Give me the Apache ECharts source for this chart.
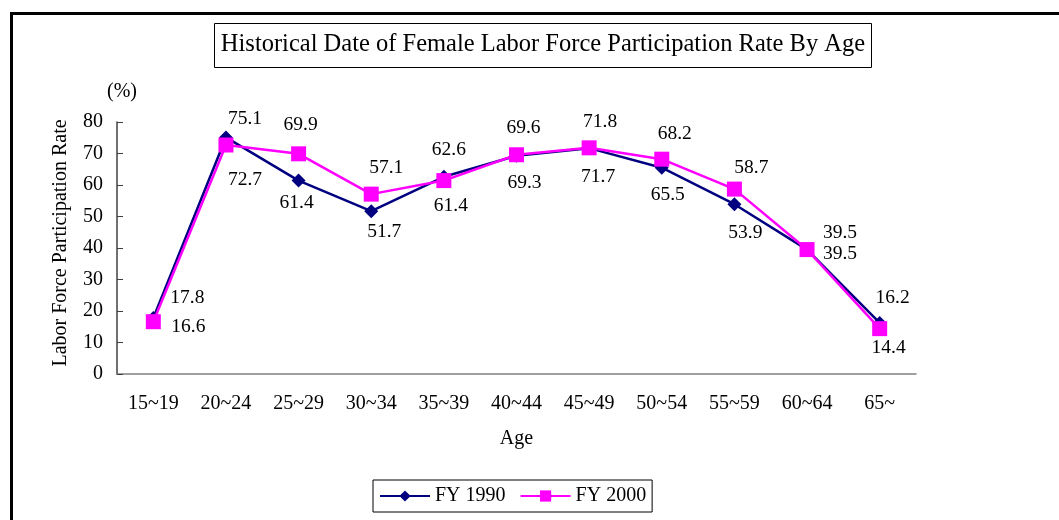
<!DOCTYPE html>
<html>
<head>
<meta charset="utf-8">
<script src="https://cdn.jsdelivr.net/npm/echarts@6/dist/echarts.min.js"></script>
<style>
html,body{margin:0;padding:0;background:#fff;}
#chart{width:1059px;height:520px;}
</style>
</head>
<body>
<div id="chart"></div>
<script>
const categories = ['15~19','20~24','25~29','30~34','35~39','40~44','45~49','50~54','55~59','60~64','65~'];
const fy1990 = [17.8, 75.1, 61.4, 51.7, 62.6, 69.3, 71.7, 65.5, 53.9, 39.5, 16.2];
const fy2000 = [16.6, 72.7, 69.9, 57.1, 61.4, 69.6, 71.8, 68.2, 58.7, 39.5, 14.4];
const yTicks = [0, 10, 20, 30, 40, 50, 60, 70, 80];

// label placement (layout only)
const off1990 = [[34,-20],[19,-19],[-2,22],[13,21],[5,-27],[8,27],[9,29],[6,27],[11,29],[33,4],[13,-25]];
const off2000 = [[35,5],[19,35],[2,-29],[15,-26],[7,25],[7,-27],[11,-26],[13,-25],[17,-21],[33,-17],[9,19]];

const FONT = '"Liberation Serif","Times New Roman",serif';

function withLabels(vals, offs) {
  return vals.map((v, i) => ({
    value: v,
    label: { show: true, position: 'inside', offset: offs[i], formatter: v.toFixed(1) }
  }));
}

const chart = echarts.init(document.getElementById('chart'), null, {renderer: 'canvas'});
chart.setOption({
  animation: false,
  backgroundColor: '#fff',
  textStyle: { fontFamily: FONT },
  grid: { left: 117, right: 143, top: 122, bottom: 146 },
  legend: {
    left: 373, top: 480,
    padding: [6, 6],
    borderColor: '#000', borderWidth: 1,
    itemWidth: 50, itemHeight: 14, itemGap: 14,
    textStyle: { fontFamily: FONT, fontSize: 20, color: '#000' },
    data: ['FY 1990', 'FY 2000']
  },
  xAxis: {
    type: 'category',
    data: categories,
    boundaryGap: true,
    name: 'Age',
    nameLocation: 'middle',
    nameGap: 55,
    nameTextStyle: { fontFamily: FONT, fontSize: 20, color: '#000' },
    axisLine: { lineStyle: { color: '#808080', width: 1.5 } },
    axisTick: { inside: true, length: 6, alignWithLabel: false, lineStyle: { color: '#808080' } },
    axisLabel: { fontFamily: FONT, fontSize: 20, color: '#000', margin: 20, interval: 0 }
  },
  yAxis: {
    type: 'value',
    min: yTicks[0], max: yTicks[yTicks.length - 1], interval: 10,
    name: 'Labor Force Participation Rate',
    nameLocation: 'middle',
    nameGap: 46,
    nameRotate: 90,
    nameTextStyle: { fontFamily: FONT, fontSize: 20, color: '#000', padding: [0, 0, 0, 10] },
    axisLine: { show: true, lineStyle: { color: '#404040', width: 1.5 } },
    axisTick: { show: true, inside: true, length: 6, lineStyle: { color: '#404040' } },
    axisLabel: { fontFamily: FONT, fontSize: 20, color: '#000', margin: 14 },
    splitLine: { show: false }
  },
  series: [
    {
      name: 'FY 1990', type: 'line',
      data: withLabels(fy1990, off1990),
      symbol: 'diamond', symbolSize: 14,
      lineStyle: { color: '#000080', width: 2.5 },
      itemStyle: { color: '#000080' },
      label: { fontFamily: FONT, fontSize: 19.5, color: '#000' },
      z: 2
    },
    {
      name: 'FY 2000', type: 'line',
      data: withLabels(fy2000, off2000),
      symbol: 'rect', symbolSize: 15,
      lineStyle: { color: '#FF00FF', width: 2.5 },
      itemStyle: { color: '#FF00FF' },
      label: { fontFamily: FONT, fontSize: 19.5, color: '#000' },
      z: 3
    }
  ],
  graphic: [
    { type: 'rect', shape: { x: 11.5, y: 13.5, width: 1100, height: 600 },
      style: { fill: 'none', stroke: '#000', lineWidth: 3 }, silent: true },
    { type: 'rect', shape: { x: 214.5, y: 23.5, width: 657, height: 44 },
      style: { fill: '#fff', stroke: '#000', lineWidth: 1 }, z: 10 },
    { type: 'text', x: 543, y: 45, z: 11,
      style: { text: 'Historical Date of Female Labor Force Participation Rate By Age',
        font: '24.5px ' + FONT, fill: '#000', textAlign: 'center', textVerticalAlign: 'middle' } },
    { type: 'text', x: 122, y: 92, z: 11,
      style: { text: '(%)', font: '20px ' + FONT, fill: '#000', textAlign: 'center', textVerticalAlign: 'middle' } }
  ]
});
</script>
</body>
</html>
